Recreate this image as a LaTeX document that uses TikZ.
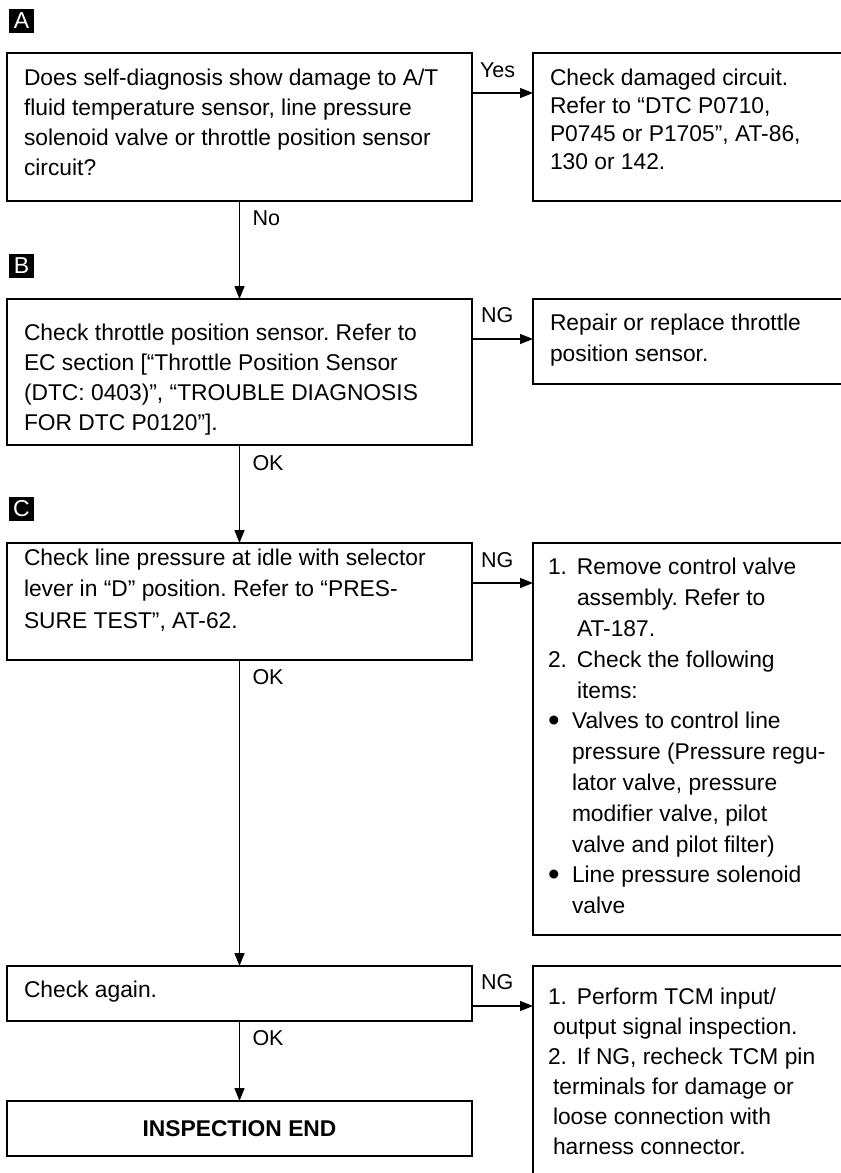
\documentclass[tikz,border=0pt]{standalone}
\usepackage{fontspec}
\setmainfont{Liberation Sans}
\usetikzlibrary{arrows.meta}
\newcommand\bigbul{\raisebox{-0.09em}{\scalebox{1.45}{\textbullet}}}
\begin{document}
\begin{tikzpicture}[x=1bp,y=-1bp,
  box/.style={draw=black, line width=1.8bp, inner sep=0pt, outer sep=0pt, anchor=north west},
  txt/.style={inner sep=0pt, outer sep=0pt, anchor=north west, align=left, font=\fontsize{22.8bp}{30bp}\selectfont\frenchspacing},
  lbl/.style={inner sep=0pt, outer sep=0pt, anchor=west, font=\fontsize{21.5bp}{24bp}\selectfont},
  arr/.style={line width=1.4bp, -{Triangle[length=13bp,width=10bp]}},
  marker/.style={fill=black, text=white, minimum width=24bp, minimum height=24bp, inner sep=0pt, font=\fontsize{23bp}{23bp}\selectfont}]
\useasboundingbox (0,0) rectangle (841,1173);
\clip (0,0) rectangle (841,1173);
\fill[white] (0,0) rectangle (841,1173);

% section markers
\node[marker] (mA) at (21.5,21) {A};
\node[marker] (mB) at (21.5,266) {B};
\node[marker] (mC) at (21.5,508.5) {C};

% left column boxes
\node[box, minimum width=465bp, minimum height=148bp] (A) at (7,53) {};
\node[box, minimum width=465bp, minimum height=146bp] (B) at (7,299) {};
\node[box, minimum width=465bp, minimum height=117bp] (C) at (7,543) {};
\node[box, minimum width=465bp, minimum height=55bp] (D) at (7,966) {};
\node[box, minimum width=465bp, minimum height=55bp, font=\fontsize{22.8bp}{30bp}\selectfont\bfseries] (E) at (7,1101) {INSPECTION END};

% right column boxes (open to the right edge)
\node[box, minimum width=400bp, minimum height=148bp] (RA) at (533,53) {};
\node[box, minimum width=400bp, minimum height=85bp] (RB) at (533,299) {};
\node[box, minimum width=400bp, minimum height=392bp] (RC) at (533,543) {};
\node[box, minimum width=400bp, minimum height=300bp] (RD) at (533,966) {};

% texts
\node[txt] (tA) at (24,64) {\strut Does self-diagnosis show damage to A/T\\fluid temperature sensor, line pressure\\solenoid valve or throttle position sensor\\circuit?};
\node[txt, font=\fontsize{22.8bp}{28bp}\selectfont\frenchspacing] (tRA) at (550,65.4) {\strut Check damaged circuit.\\Refer to “DTC P0710,\\P0745 or P1705”, AT-86,\\130 or 142.};
\node[txt] (tB) at (24,319) {\strut Check throttle position sensor. Refer to\\EC section [“Throttle Position Sensor\\(DTC: 0403)”, “TROUBLE DIAGNOSIS\\FOR DTC P0120”].};
\node[txt, font=\fontsize{22.8bp}{31bp}\selectfont\frenchspacing] (tRB) at (550,308.3) {\strut Repair or replace throttle\\position sensor.};
\node[txt, font=\fontsize{22.8bp}{31.5bp}\selectfont\frenchspacing] (tC) at (24,543) {\strut Check line pressure at idle with selector\\lever in “D” position. Refer to “PRES-\\SURE TEST”, AT-62.};
\node[txt, font=\fontsize{22.8bp}{30.8bp}\selectfont\frenchspacing] (tRC) at (548,553.4) {\strut\makebox[29bp][l]{1.}Remove control valve\\\hspace*{29bp}assembly. Refer to\\\hspace*{29bp}AT-187.\\\makebox[29bp][l]{2.}Check the following\\\hspace*{29bp}items:\\\makebox[24bp][l]{\bigbul}Valves to control line\\\hspace*{24bp}pressure (Pressure regu-\\\hspace*{24bp}lator valve, pressure\\\hspace*{24bp}modifier valve, pilot\\\hspace*{24bp}valve and pilot filter)\\\makebox[24bp][l]{\bigbul}Line pressure solenoid\\\hspace*{24bp}valve};
\node[txt] (tD) at (24,976) {\strut Check again.};
\node[txt] (tRD) at (548,983) {\strut\makebox[29bp][l]{1.}Perform TCM input/\\\hspace*{5bp}output signal inspection.\\\makebox[29bp][l]{2.}If NG, recheck TCM pin\\\hspace*{5bp}terminals for damage or\\\hspace*{5bp}loose connection with\\\hspace*{5bp}harness connector.};

% vertical connectors
\draw[arr] (A.south) -- (B.north);
\draw[arr] (B.south) -- (C.north);
\draw[arr] (C.south) -- (D.north);
\draw[arr] (D.south) -- (E.north);

% horizontal connectors
\draw[arr] ([yshift=-40bp]A.north east) -- ([yshift=-40bp]RA.north west);
\draw[arr] ([yshift=-40bp]B.north east) -- ([yshift=-40bp]RB.north west);
\draw[arr] ([yshift=-40bp]C.north east) -- ([yshift=-40bp]RC.north west);
\draw[arr] ([yshift=-40bp]D.north east) -- ([yshift=-40bp]RD.north west);

% labels
\node[lbl] (lNo) at ([xshift=13bp,yshift=-17bp]A.south) {No};
\node[lbl] (lOKB) at ([xshift=13bp,yshift=-18bp]B.south) {OK};
\node[lbl] (lOKC) at ([xshift=13bp,yshift=-17bp]C.south) {OK};
\node[lbl] (lOKD) at ([xshift=13bp,yshift=-17bp]D.south) {OK};
\node[lbl] (lYes) at ([xshift=8bp,yshift=-17bp]A.north east) {Yes};
\node[lbl] (lNGB) at ([xshift=9bp,yshift=-16bp]B.north east) {NG};
\node[lbl] (lNGC) at ([xshift=9bp,yshift=-17bp]C.north east) {NG};
\node[lbl] (lNGD) at ([xshift=9bp,yshift=-16bp]D.north east) {NG};
\end{tikzpicture}
\end{document}
